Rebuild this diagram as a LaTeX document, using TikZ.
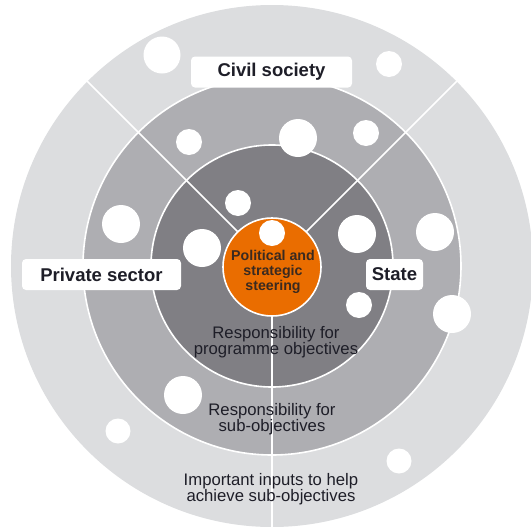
\documentclass[tikz,border=0pt]{standalone}
\usepackage{fontspec}
\setmainfont{Liberation Sans}
\usetikzlibrary{positioning}
\definecolor{ringout}{HTML}{DCDDDF}
\definecolor{ringmid}{HTML}{AEAEB2}
\definecolor{ringin}{HTML}{807F84}
\definecolor{steer}{HTML}{EA6D00}
\definecolor{labelink}{HTML}{1E1E28}
\definecolor{steerink}{HTML}{3A2A20}

\begin{document}
\begin{tikzpicture}[x=1pt,y=-1pt,
	ring/.style={circle,draw=white,line width=1.6pt,inner sep=0pt},
	hole/.style={circle,fill=white,inner sep=0pt},
	tag/.style={fill=white,rounded corners=4pt,inner sep=0pt,minimum height=31pt,text=labelink,font=\bfseries\fontsize{18.5}{20}\selectfont},
	lvl/.style={align=center,text=labelink,font=\fontsize{16.7}{16}\selectfont},
	divider/.style={draw=white,line width=1.6pt}]
\useasboundingbox (0,0) rectangle (531,528);
\clip (0,0) rectangle (531,528);

\node[ring,draw=none,fill=ringout,minimum size=522pt] (outer) at (272,266) {};
 \node[ring,fill=ringmid,minimum size=378pt] (mid) at (272,266) {};
  \node[ring,fill=ringin,minimum size=242pt] (inner) at (272,266) {};

	\path[divider] (outer.135) edge (outer.center)
	               (outer.45)  edge (outer.center)
	               (outer.south) edge (outer.center);

\node[ring,fill=steer,minimum size=98pt] (steer) at (272,267) {};

\foreach \x/\y/\r [count=\i] in {162/55/18.5,389/64/13,189/142/13,298/138/19,366/133/13,
	238/203/13,121/224/19,202/248/19,272/233/13,357/234/19,435/232/19,
	359/305/13,452/314/19,183/395/19,118/431/12.5,399/461/12.5}
	\node[hole,minimum size=2*\r pt] (hole\i) at (\x,\y) {};

\node[align=center,text=steerink,font=\bfseries\fontsize{14.2}{15}\selectfont] (steertext) at (273,272) {Political and\\strategic\\steering};

\node[tag,minimum width=161pt] (civil)   at (271.5,72)  {Civil society};
 \node[tag,minimum width=159pt] (private) at (101.5,274.5) {Private sector};
  \node[tag,minimum width=57pt]  (state)   at (394.5,274.5) {State};

\node[lvl] (progobj) at (276,342) {Responsibility for\\programme objectives};
\node[lvl] (subobj)  at (272,419) {Responsibility for\\sub-objectives};
\node[lvl] (inputs)  at (271,489) {Important inputs to help\\achieve sub-objectives};
\end{tikzpicture}
\end{document}
